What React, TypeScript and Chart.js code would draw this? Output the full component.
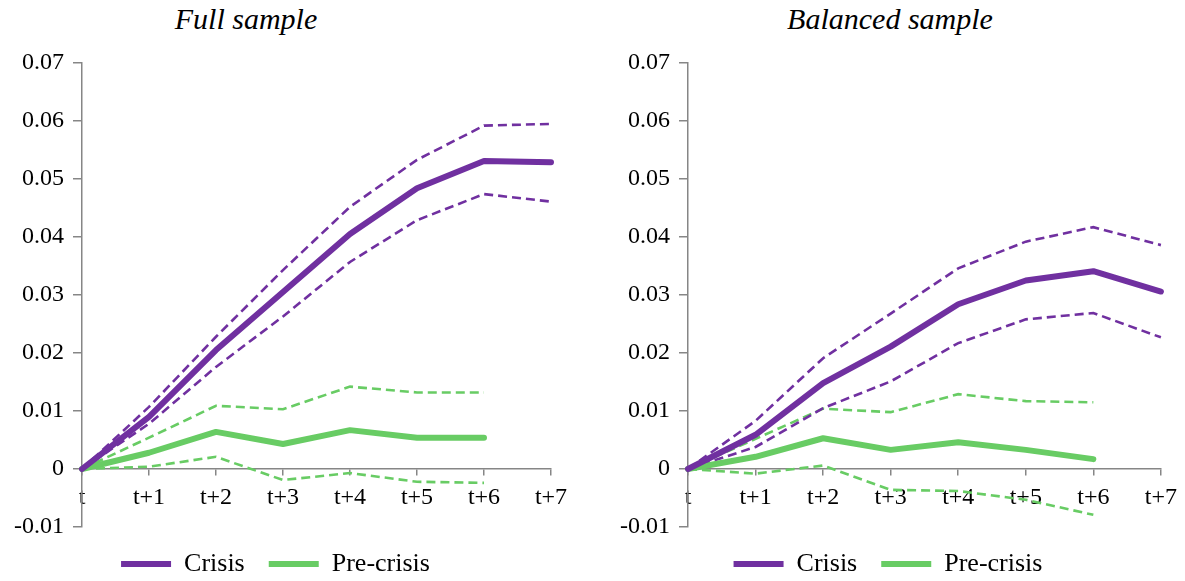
import { useEffect, useRef } from "react";
import { Chart, registerables } from "chart.js";

Chart.register(...registerables);

const periods = ["t", "t+1", "t+2", "t+3", "t+4", "t+5", "t+6", "t+7"];
const yTicks = { min: -0.01, max: 0.07, step: 0.01 };

// Full sample
const fullCrisis = [0, 0.009, 0.0205, 0.0305, 0.0405, 0.0484, 0.0531, 0.0529];
const fullCrisisUpper = [0, 0.0107, 0.0228, 0.0343, 0.0452, 0.0533, 0.0592, 0.0595];
const fullCrisisLower = [0, 0.0078, 0.0176, 0.0263, 0.0357, 0.0429, 0.0474, 0.0461];
const fullPre = [0, 0.0028, 0.0064, 0.0043, 0.0067, 0.0054, 0.0054, null];
const fullPreUpper = [0, 0.0054, 0.0109, 0.0103, 0.0142, 0.0132, 0.0132, null];
const fullPreLower = [0, 0.0004, 0.0021, -0.0019, -0.0007, -0.0022, -0.0024, null];

// Balanced sample
const balCrisis = [0, 0.0059, 0.0148, 0.0211, 0.0284, 0.0325, 0.0341, 0.0306];
const balCrisisUpper = [0, 0.0083, 0.0191, 0.0268, 0.0346, 0.0392, 0.0417, 0.0386];
const balCrisisLower = [0, 0.0038, 0.0105, 0.0151, 0.0217, 0.0258, 0.0269, 0.0227];
const balPre = [0, 0.0021, 0.0053, 0.0033, 0.0046, 0.0033, 0.0017, null];
const balPreUpper = [0, 0.0052, 0.0104, 0.0098, 0.0129, 0.0117, 0.0115, null];
const balPreLower = [0, -0.0008, 0.0006, -0.0036, -0.0038, -0.0053, -0.0079, null];

const PURPLE = "#7030A0";
const GREEN = "#68CC64";
const AXIS = "#868686";
const FONT = "'Liberation Serif', 'Times New Roman', serif";

type Series = (number | null)[];

interface PanelProps {
  title: string;
  titleCenter: number;
  left: number;
  width: number;
  padLeft: number;
  padRight: number;
  axisWidth: number;
  crisis: Series;
  crisisUpper: Series;
  crisisLower: Series;
  pre: Series;
  preUpper: Series;
  preLower: Series;
}

const SamplePanel = (p: PanelProps) => {
  const canvasRef = useRef<HTMLCanvasElement | null>(null);

  useEffect(() => {
    if (!canvasRef.current) return;

    const solid = (label: string, data: Series, color: string) => ({
      label,
      data,
      borderColor: color,
      backgroundColor: color,
      borderWidth: 6,
      borderCapStyle: "round" as const,
      borderJoinStyle: "round" as const,
      pointRadius: 0,
      tension: 0,
      fill: false,
    });
    const dashed = (label: string, data: Series, color: string) => ({
      label,
      data,
      borderColor: color,
      backgroundColor: color,
      borderWidth: 2.6,
      borderDash: [9, 5],
      pointRadius: 0,
      tension: 0,
      fill: false,
    });

    const chart = new Chart(canvasRef.current, {
      type: "line",
      data: {
        labels: periods,
        datasets: [
          solid("Crisis", p.crisis, PURPLE),
          solid("Pre-crisis", p.pre, GREEN),
          dashed("Crisis upper", p.crisisUpper, PURPLE),
          dashed("Crisis lower", p.crisisLower, PURPLE),
          dashed("Pre-crisis upper", p.preUpper, GREEN),
          dashed("Pre-crisis lower", p.preLower, GREEN),
        ],
      },
      options: {
        responsive: false,
        animation: false,
        layout: {
          padding: { left: p.padLeft, right: p.padRight, top: 63, bottom: -6 },
        },
        plugins: {
          tooltip: { enabled: false },
          title: { display: false },
          legend: {
            position: "bottom",
            labels: {
              filter: (item) => (item.datasetIndex ?? 0) < 2,
              usePointStyle: true,
              pointStyle: "line",
              pointStyleWidth: 50,
              padding: 24,
              color: "#000",
              font: { family: FONT, size: 26 },
            },
          },
        },
        scales: {
          x: {
            type: "category",
            position: { y: 0 },
            offset: false,
            border: { color: AXIS, width: 1.5 },
            grid: { drawOnChartArea: false, color: AXIS, tickLength: 6, lineWidth: 1.5 },
            ticks: {
              color: "#000",
              padding: 8,
              maxRotation: 0,
              autoSkip: false,
              font: { family: FONT, size: 24 },
            },
          },
          y: {
            min: yTicks.min,
            max: yTicks.max,
            border: { color: AXIS, width: 1.5 },
            grid: { drawOnChartArea: false, color: AXIS, tickLength: 9, lineWidth: 1.5 },
            ticks: {
              stepSize: yTicks.step,
              color: "#000",
              padding: 9,
              font: { family: FONT, size: 24 },
              callback: (v) => String(Number(Number(v).toFixed(2))),
            },
            afterFit: (scale) => {
              scale.width = p.axisWidth;
            },
          },
        },
      },
    });

    return () => {
      chart.destroy();
    };
  }, [p]);

  return (
    <>
      <div
        style={{
          position: "absolute",
          left: p.titleCenter - 150,
          width: 300,
          top: 4,
          textAlign: "center",
          fontFamily: FONT,
          fontStyle: "italic",
          fontSize: 30,
          lineHeight: "30px",
          color: "#000",
        }}
      >
        {p.title}
      </div>
      <canvas
        ref={canvasRef}
        width={p.width}
        height={581}
        style={{ position: "absolute", left: p.left, top: 0, display: "block" }}
      />
    </>
  );
};

export default function App() {
  return (
    <div
      style={{
        position: "fixed",
        left: 0,
        top: 0,
        width: 1185,
        height: 581,
        background: "#fff",
        overflow: "hidden",
      }}
    >
      <SamplePanel
        title="Full sample"
        titleCenter={246}
        left={0}
        width={592}
        padLeft={0}
        padRight={41}
        axisWidth={82}
        crisis={fullCrisis}
        crisisUpper={fullCrisisUpper}
        crisisLower={fullCrisisLower}
        pre={fullPre}
        preUpper={fullPreUpper}
        preLower={fullPreLower}
      />
      <SamplePanel
        title="Balanced sample"
        titleCenter={890}
        left={592}
        width={593}
        padLeft={22}
        padRight={23}
        axisWidth={74}
        crisis={balCrisis}
        crisisUpper={balCrisisUpper}
        crisisLower={balCrisisLower}
        pre={balPre}
        preUpper={balPreUpper}
        preLower={balPreLower}
      />
    </div>
  );
}
